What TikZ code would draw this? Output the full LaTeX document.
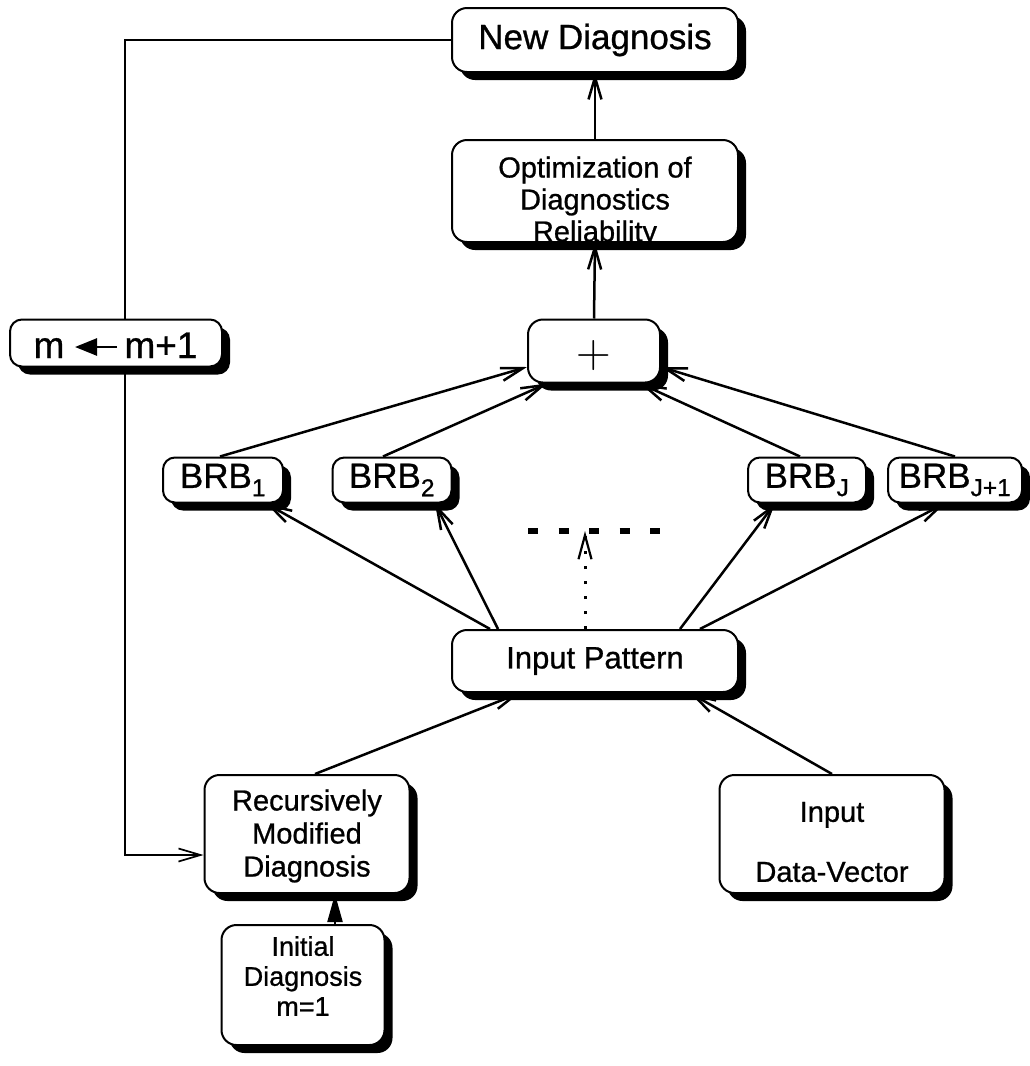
\documentclass[tikz,border=0pt]{standalone}
\usepackage{fontspec}
\setmainfont{Liberation Sans}[FakeBold=0.8]
\usetikzlibrary{arrows.meta,shadows}

\begin{document}
\begin{tikzpicture}[x=1pt,y=-1pt,
  box/.style={draw,line width=2pt,fill=white,rounded corners=15pt,inner sep=0pt,align=center,
    drop shadow={shadow xshift=8pt,shadow yshift=-8pt,fill=black,opacity=1}},
  brbbox/.style={box,rounded corners=12pt,minimum height=45pt,font=\fontsize{35}{38}\selectfont},
  link/.style={line width=2.5pt,-{Straight Barb[length=22pt,width=13pt,line width=2.5pt]}},
  loopline/.style={line width=1.7pt},
  txt/.style={inner sep=0pt,align=center}
]
\useasboundingbox (0,0) rectangle (1030,1066);

% boxes
\node[box,minimum width=286pt,minimum height=64pt,font=\fontsize{35}{38}\selectfont] (ND) at (595,40) {New Diagnosis};
\node[box,minimum width=286pt,minimum height=102pt] (OPT) at (595,191) {};
\node[txt,font=\fontsize{29}{32}\selectfont] (OPTt) at (595,202) {Optimization of\\Diagnostics\\Reliability};
\node[box,minimum width=132pt,minimum height=63pt] (P) at (594,351) {};
\node[txt,font=\fontencoding{TU}\fontfamily{lmr}\fontsize{48}{50}\selectfont] (Pt) at (594,356) {+};
\node[box,rounded corners=12pt,minimum width=212pt,minimum height=47pt] (M) at (116,343) {};
\node[txt,anchor=base,font=\fontsize{37}{40}\selectfont] (m1) at (49,358) {m};
\node[txt,anchor=base,font=\fontsize{37}{40}\selectfont] (m2) at (161,358) {m+1};
\coordinate (arrTail) at (117,347);
\coordinate (arrHead) at (75,347);
\draw[line width=2.6pt,-{Triangle[length=22pt,width=17pt]}] (arrTail) -- (arrHead);

\node[brbbox,minimum width=120pt] (B1) at (223,480) {BRB\textsubscript{1}};
\node[brbbox,minimum width=119pt] (B2) at (392,480) {BRB\textsubscript{2}};
\node[brbbox,minimum width=118pt] (BJ) at (807,480) {BRB\textsubscript{J}};
\node[brbbox,minimum width=134pt] (BJ1) at (955,480) {BRB\textsubscript{J+1}};

\coordinate (dotsL) at (528,531);
\coordinate (dotsR) at (660,531);
\draw[line width=5.5pt,dash pattern=on 10pt off 20.5pt] (dotsL) -- (dotsR);
\coordinate (dotsTip) at (585,531);

\node[box,minimum width=286pt,minimum height=62pt,font=\fontsize{31}{34}\selectfont] (IP) at (595,661) {Input Pattern};
\node[box,minimum width=205pt,minimum height=118pt] (RMD) at (307,834) {};
\node[txt,font=\fontsize{29}{33}\selectfont] (RMDt) at (307,836) {Recursively\\Modified\\Diagnosis};
\node[box,minimum width=225pt,minimum height=118pt] (IDV) at (832,834) {};
\node[txt,font=\fontsize{29}{60}\selectfont] (IDVt) at (832,842) {Input\\Data-Vector};
\node[box,minimum width=163pt,minimum height=120pt] (INIT) at (303,985) {};
\node[txt,font=\fontsize{27}{30}\selectfont] (INITt) at (303,976) {Initial\\Diagnosis\\m=1};

% feedback loop
\coordinate (loopTop) at (125,40);
\draw[loopline] (ND.west) -- (loopTop) -- ([xshift=9pt]M.north);
\draw[loopline,-{Straight Barb[length=22pt,width=13pt,line width=1.7pt]}] ([xshift=9pt]M.south) |- ([yshift=-21pt]RMD.west);

% main flow
\draw[link] (OPT.north) -- (ND.south);
\draw[link] (P.north) -- (OPT.south);
\draw[link] ([xshift=-3pt]B1.north) -- ([yshift=-16pt]P.west);
\draw[link] ([xshift=-9pt]B2.north) -- ([xshift=-47pt]P.south);
\draw[link] ([xshift=-7pt]BJ.north) -- ([xshift=46pt]P.south);
\draw[link] (BJ1.north) -- ([yshift=-16pt]P.east);

\draw[link] ([xshift=-105pt]IP.north) -- ([xshift=43pt]B1.south);
\draw[link] ([xshift=-97pt]IP.north) -- ([xshift=43pt]B2.south);
\draw[line width=3pt,dash pattern=on 3pt off 12pt,-{Straight Barb[length=24pt,width=13pt,line width=2.2pt]}] ([xshift=-10pt]IP.north) -- (dotsTip);
\draw[link] ([xshift=85pt]IP.north) -- ([xshift=-32pt]BJ.south);
\draw[link] ([xshift=105pt]IP.north) -- ([xshift=-10pt]BJ1.south);

\draw[link] ([xshift=8pt]RMD.north) -- ([xshift=-75pt]IP.south);
\draw[link] (IDV.north) -- ([xshift=95pt]IP.south);
\draw[line width=2.2pt,-{Triangle[length=28pt,width=15pt]}] ([xshift=32pt]INIT.north) -- ([xshift=28pt]RMD.south);
\end{tikzpicture}
\end{document}
